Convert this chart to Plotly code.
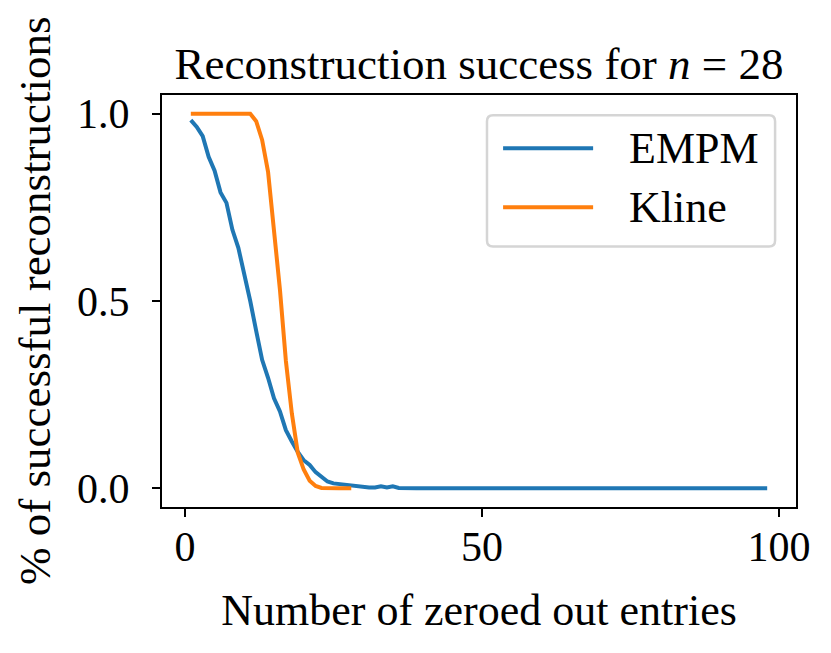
import plotly.graph_objects as go

# number of zeroed out entries
entries_empm = list(range(1, 99))
entries_kline = list(range(1, 29))

# share of successful reconstructions
empm = [0.983, 0.965, 0.94, 0.885, 0.848, 0.79, 0.762, 0.69, 0.642, 0.575,
        0.5, 0.42, 0.343, 0.295, 0.24, 0.205, 0.155, 0.125, 0.097, 0.075,
        0.062, 0.043, 0.032, 0.018, 0.013, 0.011, 0.009, 0.006, 0.004, 0.003,
        0.002, 0.002, 0.005, 0.002, 0.005, 0.001, 0.0, 0.0, 0.0, 0.0,
        0.0, 0.0, 0.0, 0.0, 0.0, 0.0, 0.0, 0.0, 0.0, 0.0,
        0.0, 0.0, 0.0, 0.0, 0.0, 0.0, 0.0, 0.0, 0.0, 0.0,
        0.0, 0.0, 0.0, 0.0, 0.0, 0.0, 0.0, 0.0, 0.0, 0.0,
        0.0, 0.0, 0.0, 0.0, 0.0, 0.0, 0.0, 0.0, 0.0, 0.0,
        0.0, 0.0, 0.0, 0.0, 0.0, 0.0, 0.0, 0.0, 0.0, 0.0,
        0.0, 0.0, 0.0, 0.0, 0.0, 0.0, 0.0, 0.0]
kline = [1.0, 1.0, 1.0, 1.0, 1.0, 1.0, 1.0, 1.0, 1.0, 1.0,
         1.0, 0.98, 0.93, 0.845, 0.685, 0.53, 0.34, 0.2, 0.095, 0.05,
         0.02, 0.006, 0.001, 0.0, 0.0, 0.0, 0.0, 0.0]

series_names = ["EMPM", "Kline"]
series_colors = ["#1f77b4", "#ff7f0e"]

x_ticks = [0, 50, 100]
y_ticks = [0.0, 0.5, 1.0]
y_tick_labels = ["0.0", "0.5", "1.0"]

FONT = "Liberation Serif"
LW = 4
# the page body has an 8px margin, so the figure is a bit smaller than the window
W, H, PAGE_PAD = 823, 645, 8

fig = go.Figure()
fig.add_trace(go.Scatter(x=entries_empm, y=empm, mode="lines", name=series_names[0],
                         line=dict(color=series_colors[0], width=LW)))
fig.add_trace(go.Scatter(x=entries_kline, y=kline, mode="lines", name=series_names[1],
                         line=dict(color=series_colors[1], width=LW)))

axis_common = dict(showgrid=False, zeroline=False, showline=True, mirror=True,
                   linecolor="black", linewidth=2.2, ticks="outside", ticklen=8,
                   tickwidth=2.2, tickcolor="black",
                   tickfont=dict(family=FONT, size=42, color="black"))

fig.update_xaxes(range=[-3.85, 102.85], tickvals=x_ticks, ticklabelstandoff=-7,
                 title=dict(text="Number of zeroed out entries", standoff=26,
                            font=dict(family=FONT, size=44, color="black")),
                 **axis_common)
fig.update_yaxes(range=[-0.05, 1.05], tickvals=y_ticks, ticktext=y_tick_labels,
                 ticklabelstandoff=14, **axis_common)

# y title as an annotation so it can sit closer to the edge
fig.add_annotation(text="% of successful reconstructions", textangle=-90,
                   xref="paper", yref="paper", x=-0.2003, y=0.5,
                   xanchor="center", yanchor="middle", showarrow=False,
                   font=dict(family=FONT, size=45, color="black"))

# legend box drawn by hand to get matplotlib's long line samples
x0, x1, y0, y1 = 0.5126, 0.967, 0.632, 0.951
rx, ry = 0.0095, 0.0146
box = (f"M {x0 + rx},{y1} L {x1 - rx},{y1} Q {x1},{y1} {x1},{y1 - ry} "
       f"L {x1},{y0 + ry} Q {x1},{y0} {x1 - rx},{y0} "
       f"L {x0 + rx},{y0} Q {x0},{y0} {x0},{y0 + ry} "
       f"L {x0},{y1 - ry} Q {x0},{y1} {x0 + rx},{y1} Z")
fig.add_shape(type="path", path=box, xref="paper", yref="paper",
              line=dict(color="#d5d5d5", width=2.5), fillcolor="rgba(255,255,255,0.8)")

legend_rows = [0.8706, 0.7274]
for name, color, ly in zip(series_names, series_colors, legend_rows):
    fig.add_shape(type="line", xref="paper", yref="paper", x0=0.538, x1=0.680,
                  y0=ly, y1=ly, line=dict(color=color, width=LW))
    fig.add_annotation(text=name, xref="paper", yref="paper", x=0.733, y=ly,
                       xanchor="left", yanchor="middle", showarrow=False,
                       font=dict(family=FONT, size=44, color="black"))

fig.update_layout(
    width=W, height=H, autosize=False,
    margin=dict(l=162 - PAGE_PAD, r=35, t=95 - PAGE_PAD, b=146),
    plot_bgcolor="white", paper_bgcolor="white",
    showlegend=False,
    title=dict(text="Reconstruction success for <i>n</i> = 28",
               x=0.5, xref="paper", y=1 - (63 - PAGE_PAD) / H, yref="container",
               xanchor="center", yanchor="middle",
               font=dict(family=FONT, size=45, color="black")),
)

fig.write_html("out.html")
